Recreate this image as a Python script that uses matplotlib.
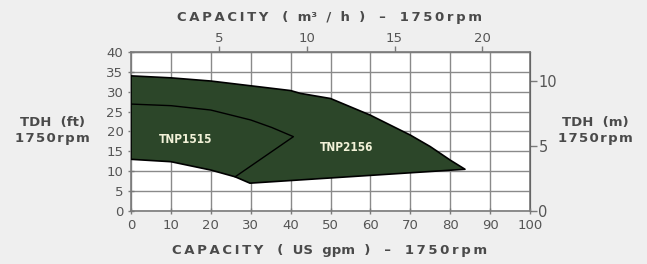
import numpy as np
import matplotlib.pyplot as plt

# pump envelope TNP2156 (outer) in US gpm / ft
outer_top_q = [0, 10, 20, 30, 40, 42.4, 50, 55, 60, 65, 70, 75, 80, 83.7]
outer_top_h = [34, 33.5, 32.7, 31.5, 30.3, 29.6, 28.3, 26.2, 24.1, 21.6, 19.1, 16.2, 12.8, 10.5]
outer_bot_q = [83.7, 29.8, 26.1, 20, 10, 0]
outer_bot_h = [10.5, 7.0, 8.6, 10.3, 12.4, 13.0]

# TNP1515 divider curve
inner_q = [0, 10, 20, 30, 35.3, 40.7, 26.1]
inner_h = [26.9, 26.5, 25.4, 22.9, 21.0, 18.7, 8.6]

labels = ["TNP1515", "TNP2156"]
label_q = [13.8, 54]
label_h = [18.1, 15.9]

x_ticks = list(range(0, 101, 10))
y_ticks = list(range(0, 41, 5))
top_ticks = [5, 10, 15, 20]
right_ticks = [0, 5, 10]

GPM_TO_M3H = 0.2271
FT_TO_M = 0.3048

bg = "#efefef"
txt = "#4a4a4a"
fill = "#2c4629"

fig = plt.figure(figsize=(6.47, 2.64), dpi=100, facecolor=bg)
ax = fig.add_axes([0.2025, 0.2008, 0.6167, 0.6022])
ax.set_facecolor("white")

poly_q = outer_top_q + outer_bot_q
poly_h = outer_top_h + outer_bot_h
ax.fill(poly_q, poly_h, facecolor=fill, edgecolor="black", linewidth=1.2,
        joinstyle="round", zorder=3)
ax.plot(inner_q, inner_h, color="black", linewidth=1.0, zorder=4)

for lab, q, h in zip(labels, label_q, label_h):
    ax.text(q, h, lab, color="#f2f2d8", fontsize=8.5, fontweight="bold",
            ha="center", va="center", zorder=5, fontstretch="condensed")

ax.set_xlim(0, 100)
ax.set_ylim(0, 40)
ax.set_xticks(x_ticks)
ax.set_yticks(y_ticks)
ax.grid(True, color="#8a8a8a", linewidth=1.0, zorder=1)
ax.set_axisbelow(True)
for s in ax.spines.values():
    s.set_color("#7a7a7a")
    s.set_linewidth(1.2)
ax.tick_params(colors="#7a7a7a", labelcolor="#555555", labelsize=9.5, length=4, width=1, direction="inout")

top = ax.secondary_xaxis("top", functions=(lambda q: q * GPM_TO_M3H, lambda m: m / GPM_TO_M3H))
top.set_xticks(top_ticks)
top.tick_params(colors="#7a7a7a", labelcolor="#555555", labelsize=9.5, length=4, width=1, direction="out", pad=1)

right = ax.secondary_yaxis("right", functions=(lambda h: h * FT_TO_M, lambda m: m / FT_TO_M))
right.set_yticks(right_ticks)
right.tick_params(colors="#7a7a7a", labelcolor="#555555", labelsize=10.5, length=5, width=1, direction="out", pad=1)

def spaced(s, sep="\u200a"):
    return sep.join(s)

top_title = spaced("CAPACITY", "\u2009") + "   (  m\u00b3  /  h  )   \u2013   " + spaced("1750rpm", "\u2009")
bot_title = spaced("CAPACITY", "\u2009") + "   (  US  gpm  )   \u2013   " + spaced("1750rpm", "\u2009")
fig.text(0.51, 0.935, top_title, ha="center", va="center", fontsize=9.5, fontweight="bold", color=txt)
fig.text(0.51, 0.052, bot_title, ha="center", va="center", fontsize=9.5, fontweight="bold", color=txt)
fig.text(0.081, 0.505, "TDH  (ft)\n" + spaced("1750rpm"),
         ha="center", va="center", fontsize=9.5, fontweight="bold", color=txt, linespacing=1.25)
fig.text(0.92, 0.505, "TDH  (m)\n" + spaced("1750rpm"),
         ha="center", va="center", fontsize=9.5, fontweight="bold", color=txt, linespacing=1.25)

fig.savefig("out.png", dpi=100, facecolor=bg)
